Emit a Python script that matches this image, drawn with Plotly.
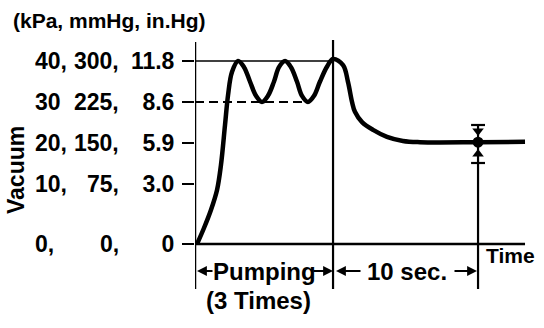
import plotly.graph_objects as go

# ---- data (time in s, vacuum in kPa on the drawn scale; the drawn "0" baseline sits at BASE) ----
BASE = -4.63
curve_t = [0.14, 0.62, 1.10, 1.52, 1.79, 2.07, 2.28, 2.55, 2.97, 3.38, 3.79, 4.21, 4.62, 5.03,
           5.45, 5.79, 6.21, 6.62, 7.03, 7.38, 7.79, 8.21, 8.62, 9.10, 9.52, 10.21, 10.55,
           10.83, 11.03, 11.52, 12.28, 13.24, 14.34, 15.52, 19.52, 22.76]
curve_v = [BASE, -0.73, 3.66, 8.54, 14.63, 24.39, 31.71, 37.32, 40.0, 38.5, 35.0, 31.5, 30.0, 31.5,
           35.0, 38.5, 40.0, 38.5, 35.0, 31.5, 30.0, 31.5, 35.0, 38.6, 40.5, 39.0, 34.9,
           30.0, 27.6, 25.1, 23.2, 21.5, 20.5, 20.2, 20.2, 20.3]

tick_pos = [BASE, 10, 20, 30, 40]
col_kpa = ["0,", "10,", "20,", "30", "40,"]
col_mmhg = ["0,", "75,", "150,", "225,", "300,"]
col_inhg = ["0", "3.0", "5.9", "8.6", "11.8"]

t_pump_end = 9.52
t_measure = 19.52
v_measure = 20.2
t_axis_end = 22.76

# ---- layout helpers ----
W, H = 544, 328
ML = 195
PXS = 14.5  # px per second
PYS = 4.1   # px per kPa
x_range = [0, (W - ML) / PXS]
y_top = 40 + 61 / PYS
y_range = [y_top - H / PYS, y_top]

def vy(py):
    return y_top - py / PYS

def tx(px):
    return (px - ML) / PXS

def paperx(px):
    return (px - ML) / (W - ML)

FONT = "Liberation Sans"
BLK = "black"

fig = go.Figure()

fig.add_trace(go.Scatter(x=curve_t, y=curve_v, mode="lines",
                         line=dict(color=BLK, width=4.5, shape="spline", smoothing=1.0),
                         hoverinfo="skip", showlegend=False))
# measurement dot + tolerance arrows
fig.add_trace(go.Scatter(x=[t_measure], y=[v_measure], mode="markers",
                         marker=dict(color=BLK, size=11), showlegend=False, hoverinfo="skip"))
fig.add_trace(go.Scatter(x=[t_measure, t_measure], y=[vy(131), vy(154)], mode="markers",
                         marker=dict(color=BLK, size=10, symbol=["triangle-down", "triangle-up"]),
                         showlegend=False, hoverinfo="skip"))

shapes = []
def seg(x0, y0, x1, y1, w=2, dash=None, xref="x"):
    shapes.append(dict(type="line", xref=xref, yref="y", x0=x0, y0=y0, x1=x1, y1=y1,
                       line=dict(color=BLK, width=w, dash=dash)))

# axes
seg(0, BASE, t_axis_end, BASE, w=2.5)
seg(0, vy(42), 0, vy(289), w=2.5)
# reference levels
seg(0, 40, t_pump_end, 40, w=1.6)
seg(0, 30, tx(308), 30, w=1.8, dash="9px,5px")
# vertical markers
seg(t_pump_end, vy(40), t_pump_end, vy(289), w=2.2)
seg(t_measure, vy(125), t_measure, vy(289), w=2.2)
# tolerance bars
seg(t_measure - 0.48, vy(125), t_measure + 0.48, vy(125), w=2.2)
seg(t_measure - 0.48, vy(163), t_measure + 0.48, vy(163), w=2.2)

ann = []
def arrow(x_tip, x_tail, y):
    ann.append(dict(x=x_tip, y=y, ax=x_tail, ay=y, xref="x", yref="y", axref="x", ayref="y",
                    text="", showarrow=True, arrowhead=2, arrowsize=1.1, arrowwidth=1.8,
                    arrowcolor=BLK))

row_y = vy(271)
arrow(tx(197), tx(214), row_y)
arrow(tx(333), tx(312), row_y)
arrow(tx(336), tx(362), row_y)
arrow(tx(477), tx(453), row_y)

def text(s, x, y, size, xanchor="center", xref="x", angle=0):
    ann.append(dict(x=x, y=y, xref=xref, yref="y", text=s, showarrow=False,
                    xanchor=xanchor, yanchor="middle", textangle=angle,
                    font=dict(family=FONT, size=size, color=BLK, weight="bold")))

text("Pumping", tx(264), row_y, 24)
text("10 sec.", tx(407), row_y, 24)
text("(3 Times)", tx(258), vy(300), 24)
text("Time", tx(484), vy(255), 21, xanchor="left")
text("(kPa, mmHg, in.Hg)", paperx(11), vy(20), 21, xanchor="left", xref="paper")
text("Vacuum", paperx(16), vy(170), 23, xref="paper", angle=-90)

for v, a, b in zip(tick_pos, col_kpa, col_mmhg):
    text(a, paperx(33), v, 23, xanchor="left", xref="paper")
    text(b, paperx(121), v, 23, xanchor="right", xref="paper")

fig.update_layout(
    width=W, height=H, margin=dict(l=ML, r=0, t=0, b=0),
    paper_bgcolor="white", plot_bgcolor="white",
    shapes=shapes, annotations=ann, showlegend=False,
    xaxis=dict(range=x_range, visible=False, fixedrange=True),
    yaxis=dict(range=y_range, showgrid=False, zeroline=False, showline=False,
               tickmode="array", tickvals=tick_pos, ticktext=col_inhg,
               ticks="outside", ticklen=12, tickwidth=2, tickcolor=BLK,
               ticklabelstandoff=3,
               tickfont=dict(family=FONT, size=23, color=BLK, weight="bold"),
               fixedrange=True),
)

fig.write_html("out.html")
